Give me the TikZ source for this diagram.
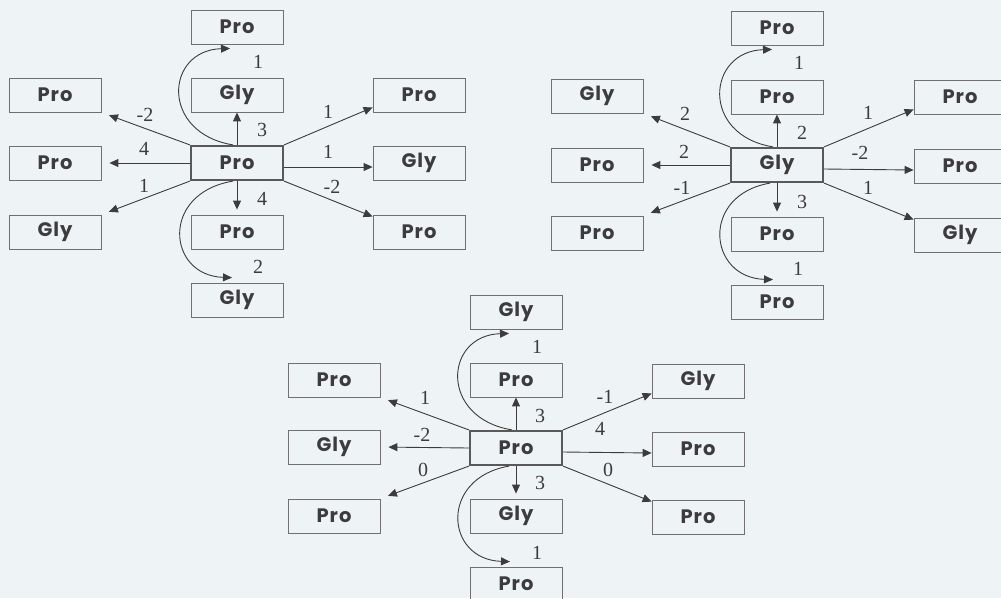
\documentclass[tikz,border=0pt]{standalone}
\usepackage{fontspec}
\setmainfont{Liberation Serif}
\newfontfamily\boxfont[LetterSpace=5]{Poppins}
\usetikzlibrary{arrows.meta}
\definecolor{bg}{HTML}{EEF3F6}
\definecolor{ink}{HTML}{3C3C3C}
\definecolor{edge}{HTML}{707070}
\tikzset{
  res/.style={draw=edge, line width=0.8pt, minimum width=92pt, minimum height=34pt, inner sep=0pt,
    font=\boxfont\bfseries\fontsize{19.5}{19.5}\selectfont, text=ink},
  hub/.style={res, draw=ink!85, line width=2.2pt},
  arr/.style={draw=ink, line width=0.9pt, -{Triangle[length=9pt,width=8pt]}},
  lab/.style={font=\fontsize{20}{20}\selectfont, text=ink, inner sep=0pt},
}
\begin{document}
\begin{tikzpicture}[x=1pt,y=-1pt]
\fill[bg] (0,0) rectangle (1001,598);
\useasboundingbox (0,0) rectangle (1001,598);

% ---------------- cluster a ----------------
\begin{scope}[shift={(237,163)}]
\node[hub] (a0) at (0,0) {Pro};
\node[res] (aU) at (0,-68) {Gly};
\node[res] (aT) at (0,-136) {Pro};
\node[res] (aD) at (0,69) {Pro};
\node[res] (aB) at (0,137) {Gly};
\node[res] (aL1) at (-182,-68) {Pro};
\node[res] (aL2) at (-182,0) {Pro};
\node[res] (aL3) at (-182,69) {Gly};
\node[res] (aR1) at (182,-68) {Pro};
\node[res] (aR2) at (182,0) {Gly};
\node[res] (aR3) at (182,69) {Pro};
\draw[arr] (a0.north) -- (aU.south);
\draw[arr,shorten >=5pt] (a0.south) -- (aD.north);
\draw[arr,shorten >=8pt] (a0.north west) -- (aL1.south east);
\draw[arr,shorten >=8pt] (a0.west) -- (aL2.east);
\draw[arr,shorten >=8pt] (a0.south west) -- (aL3.north east);
\draw[arr] (a0.north east) -- ([yshift=5pt]aR1.south west);
\draw[arr] ([yshift=-4pt]a0.east) -- ([yshift=-4pt]aR2.west);
\draw[arr] (a0.south east) -- ([yshift=-2pt]aR3.north west);
\draw[arr] ([xshift=-4pt]a0.north) .. controls +(-73,-12) and +(-65,2) .. ([xshift=-7pt,yshift=-4pt]aT.south);
\draw[arr] ([xshift=-4pt]a0.south) .. controls +(-73,12) and +(-65,-2) .. ([xshift=-5pt,yshift=5pt]aB.north);
\node[lab] (at1) at (21,-101) {1};
\node[lab] (at2) at (25,-33) {3};
\node[lab] (at3) at (-92,-48) {-2};
\node[lab] (at4) at (-93,-14) {4};
\node[lab] (at5) at (-93,23) {1};
\node[lab] (at6) at (25,36) {4};
\node[lab] (at7) at (21,104) {2};
\node[lab] (at8) at (91,-51) {1};
\node[lab] (at9) at (91,-11) {1};
\node[lab] (at10) at (95,24) {-2};
\end{scope}

% ---------------- cluster b ----------------
\begin{scope}[shift={(777,165)}]
\node[hub] (b0) at (0,0) {Gly};
\node[res] (bU) at (0,-68) {Pro};
\node[res] (bT) at (0,-137) {Pro};
\node[res] (bD) at (0,69) {Pro};
\node[res] (bB) at (0,137) {Pro};
\node[res] (bL1) at (-180,-69) {Gly};
\node[res] (bL2) at (-180,0) {Pro};
\node[res] (bL3) at (-180,68) {Pro};
\node[res] (bR1) at (183,-68) {Pro};
\node[res] (bR2) at (183,1) {Pro};
\node[res] (bR3) at (183,70) {Gly};
\draw[arr] (b0.north) -- (bU.south);
\draw[arr,shorten >=5pt] (b0.south) -- (bD.north);
\draw[arr,shorten >=8pt] (b0.north west) -- (bL1.south east);
\draw[arr,shorten >=8pt] (b0.west) -- (bL2.east);
\draw[arr,shorten >=8pt] (b0.south west) -- (bL3.north east);
\draw[arr] (b0.north east) -- ([yshift=5pt]bR1.south west);
\draw[arr] ([yshift=-4pt]b0.east) -- ([yshift=-4pt]bR2.west);
\draw[arr] (b0.south east) -- ([yshift=-2pt]bR3.north west);
\draw[arr] ([xshift=-4pt]b0.north) .. controls +(-73,-12) and +(-65,2) .. ([xshift=-5pt,yshift=-4pt]bT.south);
\draw[arr] ([xshift=-7pt]b0.south) .. controls +(-70,12) and +(-65,-2) .. ([xshift=-4pt,yshift=5pt]bB.north);
\node[lab] (bt1) at (22,-102) {1};
\node[lab] (bt2) at (25,-32) {2};
\node[lab] (bt3) at (-92,-51) {2};
\node[lab] (bt4) at (-93,-13) {2};
\node[lab] (bt5) at (-95,23) {-1};
\node[lab] (bt6) at (25,37) {3};
\node[lab] (bt7) at (21,104) {1};
\node[lab] (bt8) at (91,-52) {1};
\node[lab] (bt9) at (83,-12) {-2};
\node[lab] (bt10) at (91,23) {1};
\end{scope}

% ---------------- cluster c ----------------
\begin{scope}[shift={(516,448)}]
\node[hub] (c0) at (0,0) {Pro};
\node[res] (cU) at (0,-68) {Pro};
\node[res] (cT) at (0,-136) {Gly};
\node[res] (cD) at (0,68) {Gly};
\node[res] (cB) at (0,136) {Pro};
\node[res] (cL1) at (-182,-68) {Pro};
\node[res] (cL2) at (-182,-1) {Gly};
\node[res] (cL3) at (-182,68) {Pro};
\node[res] (cR1) at (182,-67) {Gly};
\node[res] (cR2) at (182,1) {Pro};
\node[res] (cR3) at (182,69) {Pro};
\draw[arr] (c0.north) -- (cU.south);
\draw[arr,shorten >=5pt] (c0.south) -- (cD.north);
\draw[arr,shorten >=8pt] (c0.north west) -- (cL1.south east);
\draw[arr,shorten >=8pt] (c0.west) -- (cL2.east);
\draw[arr,shorten >=8pt] (c0.south west) -- (cL3.north east);
\draw[arr] (c0.north east) -- ([yshift=5pt]cR1.south west);
\draw[arr] ([yshift=-4pt]c0.east) -- ([yshift=-4pt]cR2.west);
\draw[arr] (c0.south east) -- ([yshift=-2pt]cR3.north west);
\draw[arr] ([xshift=-4pt]c0.north) .. controls +(-73,-12) and +(-65,2) .. ([xshift=-7pt,yshift=-4pt]cT.south);
\draw[arr] ([xshift=-7pt]c0.south) .. controls +(-70,12) and +(-65,-2) .. ([xshift=-6pt,yshift=5pt]cB.north);
\node[lab] (ct1) at (21,-101) {1};
\node[lab] (ct2) at (24,-32) {3};
\node[lab] (ct3) at (-91,-50) {1};
\node[lab] (ct4) at (-94,-13) {-2};
\node[lab] (ct5) at (-93,22) {0};
\node[lab] (ct6) at (24,35) {3};
\node[lab] (ct7) at (21,105) {1};
\node[lab] (ct8) at (89,-51) {-1};
\node[lab] (ct9) at (84,-19) {4};
\node[lab] (ct10) at (92,22) {0};
\end{scope}
\end{tikzpicture}
\end{document}
